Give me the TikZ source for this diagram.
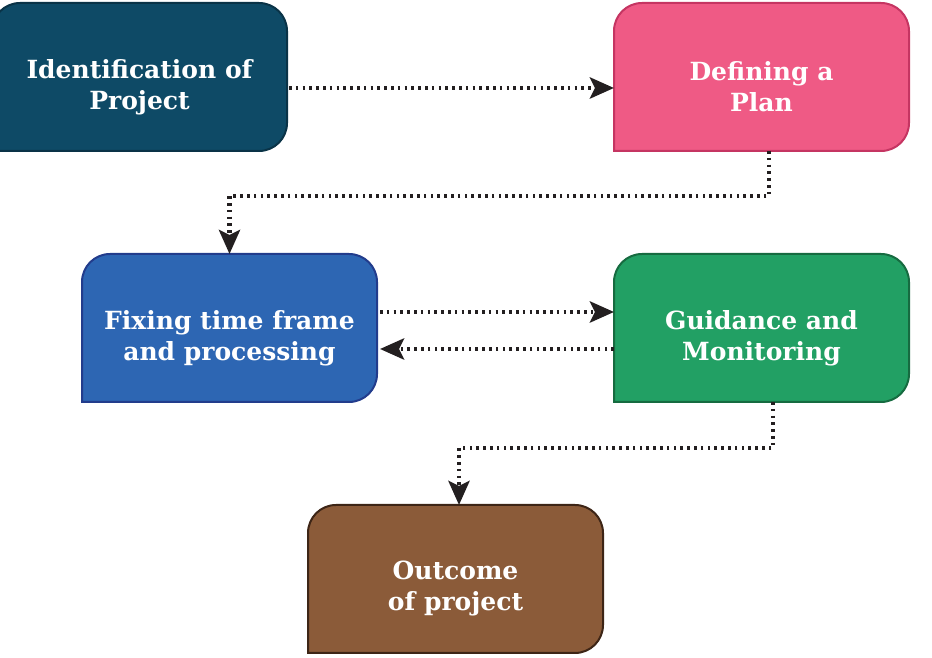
\documentclass[tikz,border=0pt]{standalone}
\usepackage{fontspec}
\setmainfont{DejaVu Serif}
\usetikzlibrary{arrows.meta,backgrounds,calc}
\definecolor{tealF}{HTML}{0E4A66}
\definecolor{tealD}{HTML}{0A3347}
\definecolor{pinkF}{HTML}{EF5A85}
\definecolor{pinkD}{HTML}{C53562}
\definecolor{blueF}{HTML}{2D66B3}
\definecolor{blueD}{HTML}{223C8C}
\definecolor{greenF}{HTML}{22A064}
\definecolor{greenD}{HTML}{166B40}
\definecolor{brownF}{HTML}{8B5B39}
\definecolor{brownD}{HTML}{3D2516}
\definecolor{arrowc}{HTML}{231F20}
\tikzset{
  box/.style={minimum width=295pt, minimum height=148pt, inner sep=0pt, outer sep=0pt},
  boxtext/.style={text=white, font=\fontsize{25}{31}\selectfont\bfseries, align=center, yshift=-10pt},
  conn/.style={draw=arrowc, line width=4.6pt, dash pattern=on 2.6pt off 4.2pt,
    -{Stealth[length=24pt,width=21pt,inset=5pt]}},
}
\newcommand\flowshape[3]{%
  \draw[fill=#2, draw=#3, line width=2pt]
    (#1.south west) -- ([yshift=-28pt]#1.north west)
    arc[start angle=180,end angle=90,radius=28pt]
    -- ([xshift=-28pt]#1.north east)
    arc[start angle=90,end angle=0,radius=28pt]
    -- ([yshift=28pt]#1.south east)
    arc[start angle=0,end angle=-90,radius=28pt]
    -- cycle;}
\begin{document}
\begin{tikzpicture}[x=1pt,y=1pt]
\useasboundingbox (0,0) rectangle (932,658);
\clip (0,0) rectangle (932,658);
\node[box, label={[boxtext]center:{Identification of\\Project}}] (id) at (139.5,581) {};
\node[box, label={[boxtext]center:{Defining a\\Plan}}] (plan) at (761.5,581) {};
\node[box, label={[boxtext]center:{Fixing time frame\\and processing}}] (fix) at (229.5,330) {};
\node[box, label={[boxtext]center:{Guidance and\\Monitoring}}] (guide) at (761.5,330) {};
\node[box, label={[boxtext]center:{Outcome\\of project}}] (out) at (455.5,79) {};
\begin{scope}[on background layer]
  \flowshape{id}{tealF}{tealD}
  \flowshape{plan}{pinkF}{pinkD}
  \flowshape{fix}{blueF}{blueD}
  \flowshape{guide}{greenF}{greenD}
  \flowshape{out}{brownF}{brownD}
\end{scope}
\coordinate (m1) at (229.5,462);
\coordinate (m2) at (459,210);
\draw[conn, shorten <=2pt] ([yshift=-11pt]id.east) -- ([yshift=-11pt]plan.west);
\draw[conn] ([xshift=7.5pt]plan.south) |- (m1) -- (fix.north);
\draw[conn, shorten <=3pt] ([yshift=16pt]fix.east) -- ([yshift=16pt]guide.west);
\draw[conn, shorten >=3pt] ([yshift=-21pt]guide.west) -- ([yshift=-21pt]fix.east);
\draw[conn] ([xshift=11.5pt]guide.south) |- (m2) -- ([xshift=3.5pt]out.north);
\end{tikzpicture}
\end{document}
